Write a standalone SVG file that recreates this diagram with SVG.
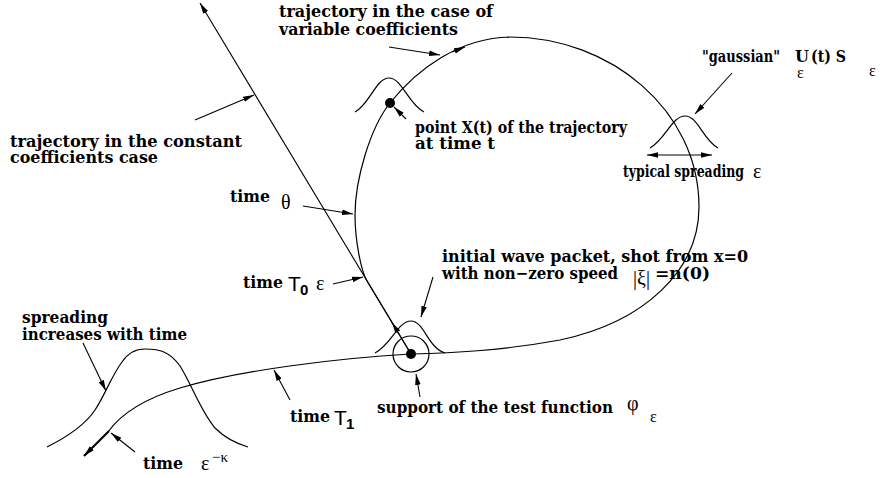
<svg xmlns="http://www.w3.org/2000/svg" width="880" height="478" viewBox="0 0 880 478">
<defs>
<style>
.t{font-family:"DejaVu Serif","Liberation Serif",serif;font-weight:bold;font-size:16px;fill:#000}
.g{font-family:"Liberation Serif","DejaVu Serif",serif;font-size:20px;fill:#000}
.gs{font-family:"Liberation Serif","DejaVu Serif",serif;font-size:16px;fill:#000}
.gk{font-family:"Liberation Serif","DejaVu Serif",serif;font-size:15px;fill:#000}
.s{font-family:"Liberation Sans",Arial,sans-serif;font-size:21px;fill:#000}
.ss{font-family:"Liberation Sans",Arial,sans-serif;font-size:15px;font-weight:bold;fill:#000}
.ln{fill:none;stroke:#000;stroke-width:1.2}
.ar{fill:none;stroke:#000;stroke-width:1.1;marker-end:url(#ah)}
</style>
<marker id="ah" markerWidth="12" markerHeight="8" refX="11" refY="4" orient="auto-start-reverse" markerUnits="userSpaceOnUse"><path d="M0,1.2 L11,4 L0,6.8 z" fill="#000"/></marker>
</defs>
<rect width="880" height="478" fill="#fff"/>

<g id="connectors">
<path class="ar" d="M411,354 L200,3"/>
<path class="ar" d="M398.5,333 L392,322.5"/>
<path class="ln" d="M411,354 L367,281 C361,271 355,240 355,215 C355,180 370,128 390,103 C418,68 460,38 510,37 C610,37 699,110 699,207 C699,270 645,322 560,340 C500,351 450,353 411,354 C340,358 240,370 180,388 C150,397 123,411 108,432"/>
<path class="ar" d="M452,52 L465,47"/>
<path d="M109,431 L84,456" fill="none" stroke="#000" stroke-width="2.2" marker-end="url(#ah)"/>
<path class="ar" d="M195,120 L254,95"/>
<path class="ar" d="M389,47 L440,55"/>
<path class="ar" d="M406,119 L394,107"/>
<path class="ar" d="M303,206 L353,214"/>
<path class="ar" d="M333,284 L363,277"/>
<path class="ar" d="M433,277 L421,317"/>
<path class="ar" d="M420,397 L416,374"/>
<path class="ar" d="M732,73 L695,114"/>
<path class="ar" d="M647,155 L712,155" marker-start="url(#ah)"/>
<path class="ar" d="M83,343 L106,391"/>
<path class="ar" d="M135,452 L111,433"/>
<path class="ar" d="M290,400 L274,370"/>
</g>

<g id="point-xt">
<path class="ln" d="M355,112 C370,104 376,78 389,78 C402,78 408,104 424,112"/>
<circle cx="390" cy="103" r="5" fill="#000"/>
</g>

<g id="gaussian-right">
<path class="ln" d="M650,148 C665,140 672,116 685,116 C698,116 703,140 718,148"/>
</g>

<g id="initial-packet">
<path class="ln" d="M375,353 C392,344 398,321 411,321 C424,321 428,348 445,353"/>
<circle cx="411" cy="354" r="18" fill="none" stroke="#000" stroke-width="1.2"/>
<circle cx="411" cy="354" r="5" fill="#000"/>
</g>

<g id="gaussian-wide">
<path class="ln" d="M47,447 C65,438 85,425 95,410 C105,395 112,375 122,362 C128,353 135,349 145,349 C160,349 170,352 180,366 C192,385 200,410 215,428 C225,438 238,444 248,447"/>
</g>

<g id="label-variable">
<text class="t" x="279" y="17" textLength="214" lengthAdjust="spacingAndGlyphs">trajectory in the case of</text>
<text class="t" x="279" y="35" textLength="179" lengthAdjust="spacingAndGlyphs">variable coefficients</text>
</g>

<g id="label-constant">
<text class="t" x="10" y="147" textLength="232" lengthAdjust="spacingAndGlyphs">trajectory in the constant</text>
<text class="t" x="10" y="163" textLength="148" lengthAdjust="spacingAndGlyphs">coefficients case</text>
</g>

<g id="label-point">
<text class="t" x="415" y="133" textLength="212" lengthAdjust="spacingAndGlyphs">point X(t) of the trajectory</text>
<text class="t" x="415" y="149" textLength="80" lengthAdjust="spacingAndGlyphs">at time  t</text>
</g>

<g id="label-gaussian">
<text class="t" x="702" y="62" textLength="78" lengthAdjust="spacingAndGlyphs">"gaussian"</text>
<text class="t" x="795" y="62">U</text>
<text class="gs" x="797" y="78">ε</text>
<text class="t" x="811" y="62" textLength="35" lengthAdjust="spacingAndGlyphs">(t) S</text>
<text class="gs" x="869" y="76">ε</text>
</g>

<g id="label-spreading">
<text class="t" x="623" y="177" textLength="121" lengthAdjust="spacingAndGlyphs">typical spreading</text>
<text class="g" x="753" y="178">ε</text>
</g>

<g id="label-theta">
<text class="t" x="230" y="202" textLength="40" lengthAdjust="spacingAndGlyphs">time</text>
<text class="g" x="281" y="209">θ</text>
</g>

<g id="label-t0">
<text class="t" x="243" y="288" textLength="40" lengthAdjust="spacingAndGlyphs">time</text>
<text class="s" x="288" y="291">T</text>
<text class="ss" x="300" y="295">0</text>
<text class="g" x="316" y="290">ε</text>
</g>

<g id="label-initial">
<text class="t" x="442" y="262" textLength="306" lengthAdjust="spacingAndGlyphs">initial wave packet, shot from x=0</text>
<text class="t" x="442" y="279" textLength="176" lengthAdjust="spacingAndGlyphs">with non−zero speed</text>
<text class="g" x="633" y="285">|ξ|</text>
<text class="t" x="655" y="279" textLength="55" lengthAdjust="spacingAndGlyphs">=n(0)</text>
</g>

<g id="label-increase">
<text class="t" x="22" y="323" textLength="86" lengthAdjust="spacingAndGlyphs">spreading</text>
<text class="t" x="22" y="340" textLength="165" lengthAdjust="spacingAndGlyphs">increases with time</text>
</g>

<g id="label-support">
<text class="t" x="377" y="413" textLength="236" lengthAdjust="spacingAndGlyphs">support of the test function</text>
<text class="g" x="627" y="410">φ</text>
<text class="gs" x="650" y="422">ε</text>
</g>

<g id="label-t1">
<text class="t" x="290" y="422" textLength="40" lengthAdjust="spacingAndGlyphs">time</text>
<text class="s" x="334" y="425">T</text>
<text class="ss" x="346" y="429">1</text>
</g>

<g id="label-eps-kappa">
<text class="t" x="143" y="469" textLength="40" lengthAdjust="spacingAndGlyphs">time</text>
<text class="g" x="201" y="470">ε</text>
<text class="gk" x="212" y="462">−κ</text>
</g>
</svg>
